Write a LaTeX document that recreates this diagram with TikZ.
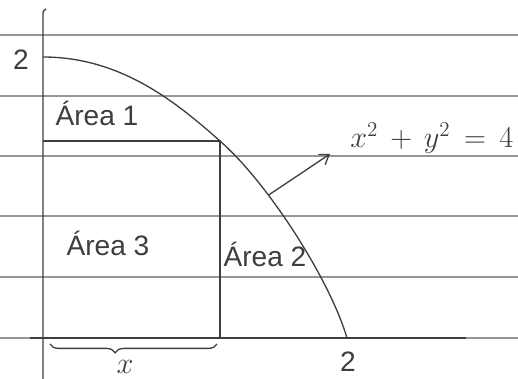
\documentclass[tikz,border=0pt]{standalone}
\usepackage{fontspec}
\setmainfont{Liberation Sans}
\usetikzlibrary{decorations.pathreplacing,arrows.meta}
\definecolor{pencil}{RGB}{62,62,62}
\definecolor{ruleline}{RGB}{150,150,150}
\begin{document}
\begin{tikzpicture}[x=0.02cm,y=-0.02cm,
  pen/.style={draw=pencil,line width=0.75pt},
  ruled/.style={draw=ruleline,line width=0.6pt},
  lbl/.style={text=pencil,inner sep=0pt,font=\fontsize{16}{18}\selectfont},
  mlbl/.style={text=pencil,inner sep=0pt,font=\fontsize{18}{20}\selectfont}]
\useasboundingbox (0,0) rectangle (518,379);
\fill[white] (0,0) rectangle (518,379);
% ruled paper lines
\foreach \yy in {35,96,156,216,277,338} \draw[ruled] (0,\yy) -- (518,\yy);
% key points
\coordinate (origin) at (43,338);
\coordinate (ytop) at (43,15);
\coordinate (ycurl) at (46,9);
\coordinate (ybot) at (43,379);
\coordinate (xleft) at (30,338);
\coordinate (xright) at (466,338);
\coordinate (ypt) at (43,57);
\coordinate (xpt) at (347,338);
\coordinate (corner) at (220,141);
\coordinate (rectl) at (43,141);
\coordinate (rectb) at (220,338);
\coordinate (arrtip) at (330,154);
\coordinate (bracel) at (50,344);
\coordinate (bracer) at (217,344);
% axes
\draw[pen] (ybot) -- (ytop) .. controls (43,11) .. (ycurl);
\draw[pen] (xleft) -- (xright);
% quarter circle
\draw[pen] (ypt) .. controls (120,57) and (175,101) .. (corner)
  .. controls (268,183) and (330,280) .. coordinate[pos=0.32] (arrstart) (xpt);
% rectangle
\draw[pen] (rectl) -- (corner) -- (rectb);
% arrow to equation
\draw[pen,-{Straight Barb[length=5pt,width=7pt]}] (arrstart) -- (arrtip);
% brace
\draw[pen,decorate,decoration={brace,mirror,amplitude=5pt,aspect=0.39}] (bracel) -- (bracer);
% labels
\node[lbl] (two_y) at (21,60) {2};
\node[lbl] (two_x) at (348,362) {2};
\node[mlbl] (xlbl) at (125,367) {$x$};
\node[lbl] (area1) at (97,113) {Área 1};
\node[lbl] (area2) at (265,254) {Área 2};
\node[lbl] (area3) at (108,243) {Área 3};
\node[mlbl,anchor=west] (eq) at (350,138) {$x^{2}\,+\,y^{2}\,=\,4$};
\end{tikzpicture}
\end{document}
